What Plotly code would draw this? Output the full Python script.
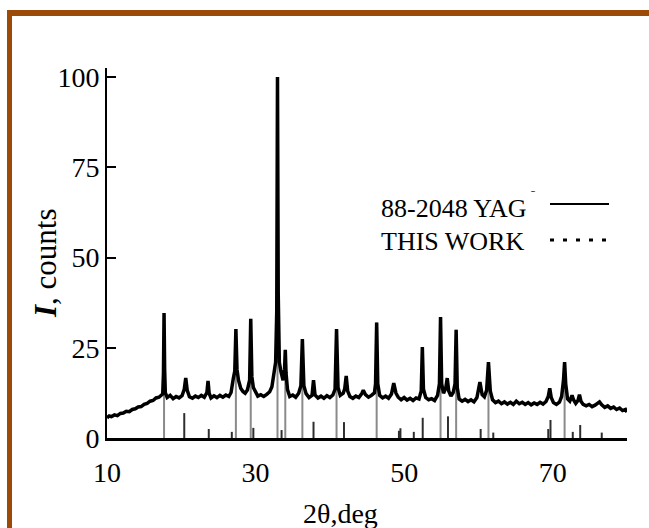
import plotly.graph_objects as go

# ---- measured XRD pattern (THIS WORK) ----
two_theta = [10.0, 10.3, 10.6, 11.0, 11.4, 11.8, 12.2, 12.6, 13.0, 13.4, 13.8, 14.2, 14.6, 15.0, 15.4, 15.8,
             16.2, 16.6, 17.0, 17.3, 17.5, 17.6, 17.68, 17.76, 17.85, 18.1, 18.5, 18.9, 19.3, 19.7, 20.1,
             20.4, 20.6, 20.8, 21.1, 21.5, 21.9, 22.3, 22.7, 23.1, 23.45, 23.6, 23.75, 24.0, 24.4, 24.8,
             25.2, 25.6, 26.0, 26.4, 26.7, 27.0, 27.2, 27.35, 27.5, 27.7, 28.0, 28.3, 28.6, 28.9, 29.2,
             29.35, 29.5, 29.7, 30.0, 30.3, 30.7, 31.1, 31.5, 31.9, 32.2, 32.5, 32.7, 32.85, 32.95, 33.05,
             33.2, 33.4, 33.7, 33.9, 34.0, 34.1, 34.3, 34.6, 35.0, 35.4, 35.8, 36.1, 36.3, 36.5, 36.8,
             37.2, 37.6, 37.8, 38.0, 38.4, 38.8, 39.2, 39.6, 40.0, 40.4, 40.7, 40.9, 41.1, 41.4, 41.8,
             42.0, 42.2, 42.4, 42.7, 43.1, 43.5, 43.9, 44.3, 44.5, 44.8, 45.2, 45.6, 46.0, 46.15, 46.3,
             46.45, 46.7, 47.1, 47.5, 47.9, 48.3, 48.6, 48.9, 49.2, 49.6, 50.0, 50.4, 50.8, 51.2, 51.6,
             52.0, 52.3, 52.45, 52.6, 52.9, 53.3, 53.7, 54.1, 54.5, 54.75, 54.9, 55.05, 55.3, 55.6, 55.8,
             56.0, 56.3, 56.6, 56.85, 57.0, 57.15, 57.4, 57.8, 58.2, 58.6, 59.0, 59.4, 59.8, 60.2, 60.5,
             60.8, 61.1, 61.35, 61.6, 61.9, 62.3, 62.7, 63.1, 63.5, 63.9, 64.3, 64.7, 65.1, 65.5, 65.9,
             66.3, 66.7, 67.1, 67.5, 67.9, 68.3, 68.7, 69.1, 69.4, 69.6, 69.8, 70.1, 70.5, 70.9, 71.2,
             71.45, 71.6, 71.75, 72.0, 72.3, 72.6, 72.8, 73.1, 73.4, 73.6, 73.8, 74.1, 74.5, 74.9, 75.3,
             75.7, 76.0, 76.3, 76.6, 77.0, 77.4, 77.8, 78.2, 78.6, 79.0, 79.4, 79.8, 80.0]
counts = [5.6, 6.1, 5.9, 6.4, 6.2, 6.8, 6.9, 7.4, 7.3, 7.9, 8.1, 8.6, 8.7, 9.3, 9.6, 10.2,
          10.4, 11.1, 11.3, 11.9, 12.2, 18.0, 34.6, 19.0, 12.6, 11.2, 11.8, 10.9, 11.5, 11.1, 11.7,
          13.5, 16.6, 13.2, 11.4, 11.0, 11.6, 11.2, 11.8, 11.3, 12.6, 15.8, 12.4, 11.1, 11.7, 11.2,
          11.8, 11.3, 11.9, 11.5, 12.6, 16.5, 18.5, 30.2, 19.0, 16.0, 13.8, 12.9, 12.4, 13.3, 16.0,
          33.0, 17.0, 14.0, 12.6, 11.6, 12.0, 11.5, 12.1, 12.8, 14.2, 17.5, 21.0, 35.0, 100.0, 40.0,
          21.0, 18.5, 16.0, 19.0, 24.4, 18.0, 13.4, 11.5, 11.9, 11.3, 12.4, 14.5, 27.4, 14.5, 12.3,
          11.2, 11.8, 16.0, 11.9, 11.1, 11.6, 11.0, 11.7, 11.2, 11.9, 13.5, 30.2, 14.0, 11.8, 12.4,
          13.6, 17.2, 13.0, 11.5, 11.0, 11.6, 11.2, 12.3, 13.2, 12.0, 11.3, 11.8, 12.5, 15.0, 32.0,
          15.0, 11.8, 11.1, 11.6, 11.0, 12.2, 15.2, 12.4, 11.3, 10.6, 11.2, 10.5, 11.0, 10.4, 11.1,
          10.8, 13.0, 25.2, 13.5, 11.2, 10.6, 10.9, 10.4, 11.8, 15.0, 33.5, 15.0, 12.4, 13.8, 16.6,
          13.0, 11.6, 12.6, 15.0, 30.0, 14.0, 10.8, 10.2, 10.7, 10.1, 10.6, 10.0, 11.2, 15.5, 12.0,
          11.4, 13.2, 21.0, 13.0, 10.6, 9.8, 10.2, 9.5, 10.0, 9.4, 9.9, 9.3, 10.2, 9.5, 9.9,
          9.3, 9.8, 9.2, 9.7, 9.3, 9.9, 9.4, 10.1, 11.5, 13.8, 11.2, 9.8, 9.3, 9.9, 11.5,
          16.0, 21.0, 15.0, 10.8, 10.2, 11.8, 10.6, 9.6, 10.4, 12.0, 10.2, 9.3, 8.9, 9.3, 8.7,
          9.1, 9.6, 10.0, 9.2, 8.5, 8.9, 8.2, 8.6, 7.9, 8.3, 7.6, 7.9, 7.2]

# ---- reference card 88-2048 YAG (stick pattern) ----
yag_major_pos = [17.68, 27.35, 29.35, 32.95, 34.0, 36.3, 40.9, 46.3, 54.9, 57.0, 61.35, 71.6]
yag_major_int = [34.6, 30.2, 33.0, 100.0, 24.4, 27.4, 30.2, 32.0, 33.5, 30.0, 21.0, 21.0]
yag_minor_pos = [20.4, 23.7, 26.8, 29.7, 33.5, 37.8, 41.9, 49.3, 49.5, 51.3, 52.5, 55.9, 60.3,
                 62.0, 69.4, 69.7, 72.7, 73.7, 76.6]
yag_minor_int = [6.9, 2.5, 1.7, 2.8, 2.2, 4.5, 4.4, 2.0, 2.7, 1.7, 5.6, 6.0, 2.5,
                 1.5, 2.5, 5.0, 1.7, 3.6, 1.5]

x_ticks = [10, 30, 50, 70]
y_ticks = [0, 25, 50, 75, 100]


def sticks(pos, inten):
    xs, ys = [], []
    for p, h in zip(pos, inten):
        xs += [p, p, None]
        ys += [0, h, None]
    return xs, ys


FONT = "Liberation Serif"
fig = go.Figure()

mx, my = sticks(yag_major_pos, yag_major_int)
fig.add_trace(go.Scatter(x=mx, y=my, mode="lines", line=dict(color="#8a8a8a", width=2),
                         hoverinfo="skip", showlegend=False))
nx, ny = sticks(yag_minor_pos, yag_minor_int)
fig.add_trace(go.Scatter(x=nx, y=ny, mode="lines", line=dict(color="#2e2e2e", width=2),
                         hoverinfo="skip", showlegend=False))
fig.add_trace(go.Scatter(x=two_theta, y=counts, mode="lines",
                         line=dict(color="black", width=3.5), showlegend=False))

L, R, T, B = 107, 22, 68, 90
W, H = 649, 528
PW, PH = W - L - R, H - T - B


def px(x):
    return (x - L) / PW


def py(y):
    return (H - B - y) / PH


brown = "#9b4a07"
shapes = [
    dict(type="rect", xref="paper", yref="paper", x0=px(7), x1=px(12), y0=py(528), y1=py(10),
         fillcolor=brown, line=dict(width=0)),
    dict(type="rect", xref="paper", yref="paper", x0=px(7), x1=px(660), y0=py(16), y1=py(10),
         fillcolor=brown, line=dict(width=0)),
    dict(type="line", xref="paper", yref="paper", x0=px(550), x1=px(609), y0=py(204), y1=py(204),
         line=dict(color="black", width=2)),
    dict(type="line", xref="paper", yref="paper", x0=px(550), x1=px(609), y0=py(240), y1=py(240),
         line=dict(color="black", width=3, dash="4px,9px")),
]

annotations = [
    dict(text="88-2048 YAG", xref="paper", yref="paper", x=px(379), y=py(208), xanchor="left",
         yanchor="middle", showarrow=False, font=dict(family=FONT, size=26, color="black")),
    dict(text="ˉ", xref="paper", yref="paper", x=px(533), y=py(195), xanchor="center",
         yanchor="middle", showarrow=False, font=dict(family=FONT, size=12, color="black")),
    dict(text="THIS WORK", xref="paper", yref="paper", x=px(379), y=py(241), xanchor="left",
         yanchor="middle", showarrow=False, font=dict(family=FONT, size=26, color="black")),
    dict(text="2θ,deg", xref="paper", yref="paper", x=px(340), y=py(513), xanchor="center",
         yanchor="middle", showarrow=False, font=dict(family=FONT, size=28, color="black")),
    dict(text="<b><i>I</i></b>, counts", xref="paper", yref="paper", x=px(45), y=py(263),
         xanchor="center", yanchor="middle", textangle=-90, showarrow=False,
         font=dict(family=FONT, size=31, color="black")),
]

fig.update_layout(
    width=W, height=H,
    margin=dict(l=L, r=R, t=T, b=B, pad=0),
    paper_bgcolor="white", plot_bgcolor="white",
    shapes=shapes, annotations=annotations,
    font=dict(family=FONT, size=28, color="black"),
    xaxis=dict(range=[10, 80], showgrid=False, zeroline=False, showline=True, linecolor="black",
               linewidth=3, ticks="", tickvals=x_ticks, ticktext=[str(v) for v in x_ticks],
               ticklabelstandoff=7, tickfont=dict(family=FONT, size=28, color="black")),
    yaxis=dict(range=[0, 102.5], showgrid=False, zeroline=False, showline=True, linecolor="black",
               linewidth=2, ticks="inside", ticklen=9, tickwidth=2, tickcolor="black",
               tickvals=y_ticks, tickfont=dict(family=FONT, size=28, color="black")),
)

fig.write_html("out.html")
